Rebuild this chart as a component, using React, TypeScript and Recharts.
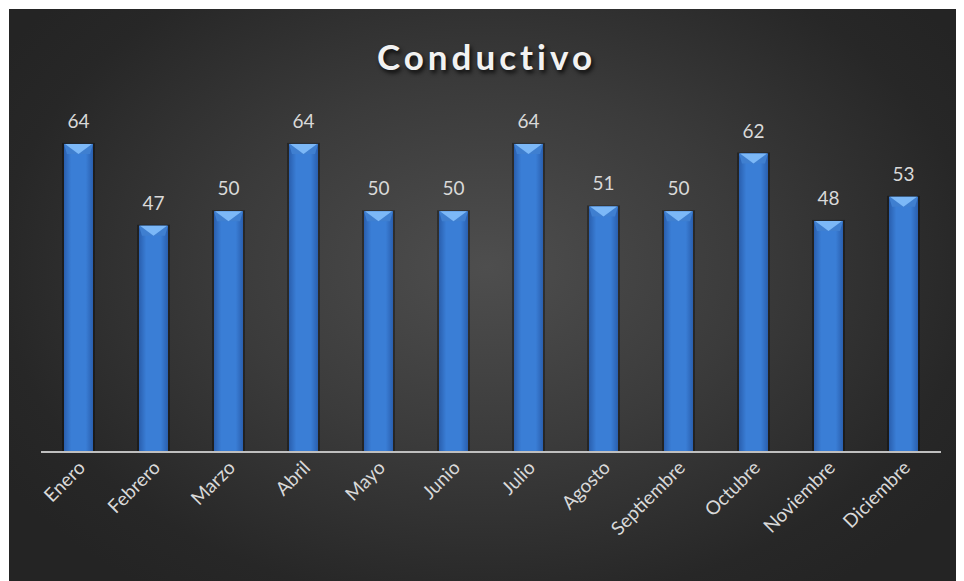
import React from 'react';
import { BarChart, Bar, XAxis, YAxis, LabelList } from 'recharts';

const months = [
  'Enero', 'Febrero', 'Marzo', 'Abril', 'Mayo', 'Junio',
  'Julio', 'Agosto', 'Septiembre', 'Octubre', 'Noviembre', 'Diciembre',
];
const values = [64, 47, 50, 64, 50, 50, 64, 51, 50, 62, 48, 53];

const data = months.map((m, i) => ({ month: m, value: values[i] }));

const FONT = 'Lato, "Open Sans", sans-serif';

// bevelled blue bar like the Excel style
const BevelBar = (props: any) => {
  const { x, y, width, height } = props;
  if (!height || height <= 0) return null;
  const b = Math.min(10, height);
  return (
    <g>
      <rect x={x - 2} y={y - 1} width={width + 4} height={height + 1} fill="#000" opacity={0.35} />
      <rect x={x} y={y} width={width} height={height} fill="url(#barGrad)" />
      <polygon points={`${x},${y} ${x + width},${y} ${x + width - 3},${y + b} ${x + 3},${y + b}`} fill="#3f7fd0" />
      <polygon points={`${x + 1},${y} ${x + width - 1},${y} ${x + width / 2},${y + b}`} fill="#7cb8f7" />
    </g>
  );
};

const Tick = (props: any) => {
  const { x, y, payload } = props;
  return (
    <g transform={`translate(${x + 3},${y + 4})`}>
      <text
        x={0}
        y={0}
        dy={7}
        textAnchor="end"
        transform="rotate(-45)"
        fill="#d9d9d9"
        fontSize={19}
        fontFamily={FONT}
      >
        {payload.value}
      </text>
    </g>
  );
};

export default function App() {
  return (
    <div
      style={{
        position: 'relative',
        width: 955,
        height: 572,
        marginLeft: 1,
        marginTop: 1,
        background: 'radial-gradient(ellipse 60% 70% at 50% 45%, #4e4e4e 0%, #3b3b3b 45%, #272727 85%, #242424 100%)',
      }}
    >
      <div
        style={{
          position: 'absolute',
          top: 26,
          left: 0,
          width: 955,
          textAlign: 'center',
          color: '#f2f2f2',
          fontFamily: FONT,
          fontWeight: 700,
          fontSize: 35,
          letterSpacing: 4,
          textShadow: '2px 3px 4px rgba(0,0,0,0.8)',
        }}
      >
        Conductivo
      </div>
      <BarChart
        width={955}
        height={572}
        data={data}
        margin={{ top: 106, right: 23, bottom: 0, left: 32 }}
      >
        <defs>
          <linearGradient id="barGrad" x1="0" y1="0" x2="1" y2="0">
            <stop offset="0%" stopColor="#2a5fae" />
            <stop offset="25%" stopColor="#3a7ed6" />
            <stop offset="75%" stopColor="#3a7ed6" />
            <stop offset="100%" stopColor="#2a5fae" />
          </linearGradient>
        </defs>
        <XAxis
          dataKey="month"
          interval={0}
          height={129}
          tickLine={false}
          axisLine={{ stroke: '#bfbfbf', strokeWidth: 2 }}
          tick={<Tick />}
        />
        <YAxis hide domain={[0, 70]} />
        <Bar dataKey="value" barSize={29} shape={<BevelBar />} isAnimationActive={false}>
          <LabelList
            dataKey="value"
            position="top"
            offset={16}
            fill="#d9d9d9"
            fontSize={19}
            fontFamily={FONT}
          />
        </Bar>
      </BarChart>
    </div>
  );
}
